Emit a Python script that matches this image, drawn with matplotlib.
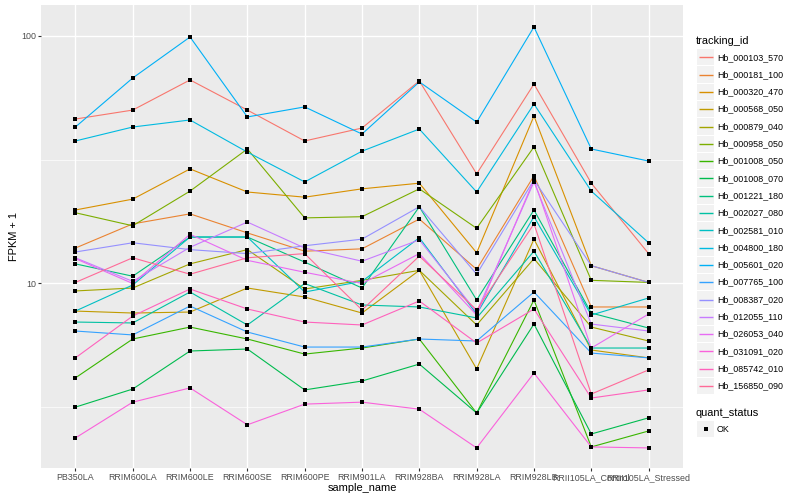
import numpy as np
import matplotlib
matplotlib.use('Agg')
import matplotlib.pyplot as plt
from matplotlib.patches import Rectangle
from matplotlib.lines import Line2D
from matplotlib.ticker import FixedLocator, NullFormatter

plt.rcParams['font.family'] = ['Liberation Sans', 'DejaVu Sans']

samples = ["PB350LA", "RRIM600LA", "RRIM600LE", "RRIM600SE", "RRIM600PE",
           "RRIM901LA", "RRIM928BA", "RRIM928LA", "RRIM928LB",
           "RRII105LA_Control", "RRII105LA_Stressed"]

Hb_000103_570 = [46.1, 50.1, 66.3, 50.1, 37.6, 42.4, 65.7, 27.7, 63.8, 25.4, 13.2]
Hb_000181_100 = [13.9, 17.4, 19.1, 16.0, 13.5, 13.8, 18.2, 11.4, 27.2, 8.04, 8.04]
Hb_000320_470 = [19.8, 21.9, 29.0, 23.4, 22.3, 24.1, 25.4, 13.3, 47.4, 11.8, 10.1]
Hb_000568_050 = [7.74, 7.60, 7.67, 9.59, 8.82, 7.60, 11.3, 4.52, 15.1, 5.39, 5.01]
Hb_000879_040 = [9.33, 9.59, 12.0, 13.7, 9.50, 10.3, 11.3, 6.80, 12.6, 6.67, 5.86]
Hb_000958_050 = [19.3, 17.1, 23.6, 34.9, 18.4, 18.6, 24.1, 16.7, 35.6, 10.3, 10.1]
Hb_001008_050 = [4.16, 5.97, 6.67, 5.97, 5.19, 5.49, 5.97, 3.00, 8.58, 2.19, 2.54]
Hb_001008_070 = [3.17, 3.75, 5.34, 5.44, 3.72, 4.04, 4.73, 3.00, 6.86, 2.47, 2.87]
Hb_001221_180 = [12.0, 10.7, 15.4, 15.4, 12.2, 9.59, 20.4, 8.58, 19.8, 7.60, 6.61]
Hb_002027_080 = [6.99, 6.93, 9.24, 6.80, 10.0, 8.19, 8.04, 7.26, 13.5, 5.49, 5.49]
Hb_002581_010 = [7.74, 9.86, 15.4, 15.4, 9.24, 10.2, 15.3, 7.53, 18.6, 7.46, 8.74]
Hb_004800_180 = [37.6, 42.8, 45.7, 33.9, 25.7, 34.2, 42.0, 23.4, 53.0, 23.6, 14.6]
Hb_005601_020 = [42.8, 67.5, 98.8, 47.0, 51.6, 40.1, 65.1, 44.8, 108.4, 34.9, 31.2]
Hb_007765_100 = [6.43, 6.20, 8.11, 6.37, 5.54, 5.54, 5.97, 5.86, 9.24, 5.24, 5.01]
Hb_008387_020 = [13.4, 14.6, 13.7, 13.2, 14.2, 15.1, 20.4, 10.9, 26.2, 11.8, 10.1]
Hb_012055_110 = [12.7, 10.2, 14.0, 17.7, 13.9, 12.3, 15.0, 7.67, 25.7, 6.86, 6.43]
Hb_026053_040 = [12.6, 10.0, 15.8, 12.4, 11.1, 10.0, 13.2, 7.46, 26.2, 5.49, 7.53]
Hb_031091_020 = [2.38, 3.32, 3.79, 2.69, 3.26, 3.32, 3.11, 2.17, 4.35, 2.19, 2.17]
Hb_085742_010 = [5.01, 7.39, 9.50, 7.89, 6.99, 6.80, 8.50, 5.75, 7.89, 3.45, 3.72]
Hb_156850_090 = [10.1, 12.7, 10.9, 12.7, 13.2, 7.82, 12.9, 7.82, 17.4, 3.58, 4.48]

tracking_ids = ["Hb_000103_570", "Hb_000181_100", "Hb_000320_470", "Hb_000568_050",
                "Hb_000879_040", "Hb_000958_050", "Hb_001008_050", "Hb_001008_070",
                "Hb_001221_180", "Hb_002027_080", "Hb_002581_010", "Hb_004800_180",
                "Hb_005601_020", "Hb_007765_100", "Hb_008387_020", "Hb_012055_110",
                "Hb_026053_040", "Hb_031091_020", "Hb_085742_010", "Hb_156850_090"]
series_values = [Hb_000103_570, Hb_000181_100, Hb_000320_470, Hb_000568_050,
                 Hb_000879_040, Hb_000958_050, Hb_001008_050, Hb_001008_070,
                 Hb_001221_180, Hb_002027_080, Hb_002581_010, Hb_004800_180,
                 Hb_005601_020, Hb_007765_100, Hb_008387_020, Hb_012055_110,
                 Hb_026053_040, Hb_031091_020, Hb_085742_010, Hb_156850_090]


def hcl_to_rgb(h, c, l):
    WY, Wu, Wv = 100.0, 0.1978398, 0.4683363
    hr = np.deg2rad(h)
    U = c * np.cos(hr)
    V = c * np.sin(hr)
    Y = WY * (((l + 16) / 116) ** 3 if l > 7.999592 else l / 903.3)
    u = U / (13 * l) + Wu
    v = V / (13 * l) + Wv
    X = 9.0 * Y * u / (4 * v)
    Z = -X / 3 - 5 * Y + 3 * Y / v

    def g(t):
        return 1.055 * t ** (1 / 2.4) - 0.055 if t > 0.00304 else 12.92 * t
    r = g((3.240479 * X - 1.537150 * Y - 0.498535 * Z) / WY)
    gg = g((-0.969256 * X + 1.875992 * Y + 0.041556 * Z) / WY)
    b = g((0.055648 * X - 0.204043 * Y + 1.057311 * Z) / WY)
    return tuple(float(min(max(x, 0.0), 1.0)) for x in (r, gg, b))


n = len(tracking_ids)
hues = np.linspace(15, 375, n + 1)[:-1]
colors = [hcl_to_rgb(h % 360, 100, 65) for h in hues]

W, H = 800, 500
fig = plt.figure(figsize=(8, 5), dpi=100)
px0, px1, py0, py1 = 41, 683, 5, 468
ax = fig.add_axes([px0 / W, 1 - py1 / H, (px1 - px0) / W, (py1 - py0) / H])
ax.set_facecolor('#EBEBEB')
for s in ax.spines.values():
    s.set_visible(False)

x = np.arange(len(samples))
for vals, col in zip(series_values, colors):
    ax.plot(x, vals, color=col, lw=0.8, zorder=2, solid_capstyle='butt')
for vals in series_values:
    ax.plot(x, vals, ls='none', marker='s', ms=3.0, mfc='black', mec='black',
            mew=0, zorder=3)

ax.set_yscale('log')
ax.set_ylim(10 ** 0.2554, 10 ** 2.1239)
ax.set_xlim(-0.6, len(samples) - 1 + 0.6)
ax.set_yticks([10, 100])
ax.set_yticklabels(['10', '100'])
ax.yaxis.set_minor_locator(FixedLocator([10 ** 0.5, 10 ** 1.5]))
ax.yaxis.set_minor_formatter(NullFormatter())
ax.set_xticks(x)
ax.set_xticklabels(samples)
ax.set_axisbelow(True)
ax.grid(which='major', color='white', lw=1.0)
ax.grid(which='minor', axis='y', color='white', lw=0.5)
ax.tick_params(which='major', length=2.0, width=0.8, color='#333333',
               labelcolor='#4D4D4D', labelsize=6.4, pad=1.5)
ax.tick_params(which='minor', length=0)

lax = fig.add_axes([0, 0, 1, 1], facecolor='none')
lax.set_xlim(0, W)
lax.set_ylim(H, 0)
lax.axis('off')

lax.text(362, 488, 'sample_name', ha='center', va='center', fontsize=7.9, color='black')
lax.text(14, 236.5, 'FPKM + 1', ha='center', va='center', rotation=90,
         fontsize=7.9, color='black')

lax.text(696, 40.7, 'tracking_id', ha='left', va='center', fontsize=7.9, color='black')
step = 17.3
y0 = 57.3
for i, (tid, col) in enumerate(zip(tracking_ids, colors)):
    yc = y0 + i * step
    lax.add_patch(Rectangle((697, yc - step / 2 + 0.5), 17, step - 1,
                            facecolor='#F2F2F2', edgecolor='none', zorder=1))
    lax.plot([698.5, 712.5], [yc, yc], color=col, lw=1.0, zorder=3,
             solid_capstyle='butt')
    lax.text(717, yc, tid, ha='left', va='center', fontsize=6.4, color='black')

lax.text(696, 412.7, 'quant_status', ha='left', va='center', fontsize=7.9, color='black')
lax.add_patch(Rectangle((697, 429.3 - step / 2 + 0.5), 17, step - 1,
                        facecolor='#F2F2F2', edgecolor='none', zorder=1))
lax.plot([705.5], [429.3], marker='s', ms=3.0, mfc='black', mec='black', mew=0,
         zorder=3)
lax.text(717, 429.3, 'OK', ha='left', va='center', fontsize=6.4, color='black')

fig.savefig('out.png', dpi=100)
